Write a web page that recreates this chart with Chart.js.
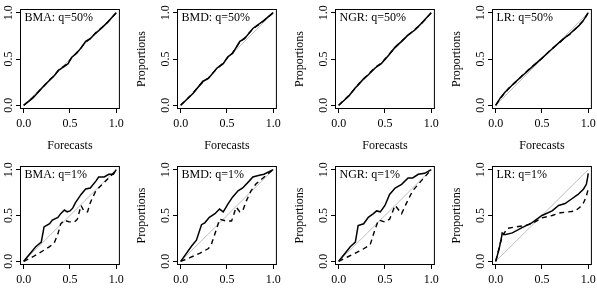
<!DOCTYPE html>
<html><head><meta charset="utf-8">
<script src="https://cdn.jsdelivr.net/npm/chart.js@4/dist/chart.umd.min.js"></script>
<style>
html,body{margin:0;padding:0;background:#fff;overflow:hidden;width:597px;height:288px;position:relative}
canvas{position:absolute}
</style>
</head><body>
<script>
// ---------- data ----------
const TICK_VALUES = [0, 0.5, 1];
const X_TITLE = 'Forecasts';
const Y_TITLE = 'Proportions';
const PANEL_TITLES = ['BMA: q=50%', 'BMD: q=50%', 'NGR: q=50%', 'LR: q=50%',
                      'BMA: q=1%', 'BMD: q=1%', 'NGR: q=1%', 'LR: q=1%'];
const DIAG_X = [0, 1];
const DIAG_Y = [0, 1];

// top row, q = 50%
const bma50SolidX = [0,0.1,0.2,0.28,0.33,0.38,0.44,0.48,0.52,0.57,0.62,0.67,0.72,0.78,0.85,0.9,1];
const bma50SolidY = [0,0.08,0.19,0.27,0.32,0.38,0.42,0.45,0.52,0.56,0.62,0.69,0.72,0.78,0.84,0.89,1];
const bma50DashX  = [0,0.1,0.2,0.28,0.33,0.38,0.44,0.48,0.52,0.57,0.62,0.67,0.72,0.78,0.85,0.9,1];
const bma50DashY  = [0,0.085,0.19,0.275,0.32,0.385,0.425,0.46,0.515,0.565,0.62,0.685,0.72,0.785,0.845,0.89,1];

const bmd50SolidX = [0,0.135,0.24,0.3,0.39,0.46,0.51,0.56,0.64,0.69,0.78,0.89,1];
const bmd50SolidY = [0,0.13,0.26,0.29,0.4,0.45,0.525,0.56,0.69,0.72,0.83,0.91,1];
const bmd50DashX  = [0,0.135,0.24,0.3,0.39,0.46,0.51,0.56,0.64,0.69,0.78,0.89,1];
const bmd50DashY  = [0,0.135,0.255,0.295,0.395,0.455,0.52,0.565,0.685,0.725,0.825,0.905,1];

const ngr50SolidX = [0,0.11,0.18,0.21,0.27,0.32,0.39,0.46,0.54,0.61,0.68,0.75,0.82,0.89,1];
const ngr50SolidY = [0,0.1,0.19,0.22,0.29,0.33,0.4,0.45,0.54,0.63,0.69,0.76,0.81,0.88,1];
const ngr50DashX  = [0,0.11,0.18,0.21,0.27,0.32,0.39,0.46,0.54,0.61,0.68,0.75,0.82,0.89,1];
const ngr50DashY  = [0,0.105,0.185,0.225,0.285,0.335,0.405,0.455,0.545,0.625,0.695,0.755,0.815,0.875,1];

const lr50SolidX = [0,0.05,0.1,0.15,0.2,0.3,0.4,0.5,0.6,0.7,0.75,0.8,0.9,0.95,1];
const lr50SolidY = [0,0.08,0.14,0.19,0.24,0.33,0.42,0.51,0.6,0.69,0.73,0.77,0.86,0.92,1];
const lr50DashX  = [0,0.05,0.1,0.15,0.2,0.3,0.4,0.5,0.6,0.7,0.75,0.8,0.9,0.95,1];
const lr50DashY  = [0,0.075,0.135,0.195,0.235,0.335,0.425,0.505,0.605,0.685,0.735,0.765,0.865,0.915,1];

// bottom row, q = 1%
const bma1SolidX = [0,0.13,0.19,0.22,0.28,0.31,0.37,0.4,0.44,0.47,0.5,0.53,0.56,0.62,0.67,0.72,0.78,0.81,0.87,0.92,0.97,1];
const bma1SolidY = [0,0.16,0.21,0.375,0.41,0.45,0.48,0.52,0.56,0.54,0.55,0.58,0.64,0.73,0.79,0.8,0.875,0.92,0.92,0.95,0.95,1];
const bma1DashX  = [0,0.1,0.2,0.28,0.33,0.37,0.4,0.44,0.49,0.55,0.58,0.62,0.65,0.69,0.72,0.78,0.81,0.87,0.92,0.96,1];
const bma1DashY  = [0,0.05,0.11,0.16,0.2,0.3,0.41,0.45,0.43,0.43,0.46,0.61,0.55,0.54,0.64,0.77,0.8,0.86,0.91,0.95,1];

const bmd1SolidX = [0,0.12,0.17,0.225,0.26,0.31,0.37,0.42,0.46,0.51,0.56,0.62,0.67,0.74,0.78,0.85,0.9,1];
const bmd1SolidY = [0,0.17,0.23,0.4,0.42,0.48,0.52,0.57,0.54,0.625,0.7,0.77,0.8,0.875,0.92,0.94,0.95,1];
const bmd1DashX  = [0,0.1,0.21,0.3,0.33,0.39,0.42,0.49,0.55,0.6,0.64,0.67,0.71,0.76,0.81,0.89,1];
const bmd1DashY  = [0,0.04,0.09,0.14,0.18,0.36,0.46,0.44,0.44,0.59,0.54,0.55,0.66,0.77,0.84,0.91,1];

const ngr1SolidX = [0,0.125,0.18,0.21,0.27,0.32,0.375,0.41,0.45,0.5,0.55,0.61,0.68,0.75,0.8,0.86,0.93,1];
const ngr1SolidY = [0,0.16,0.21,0.39,0.41,0.48,0.52,0.55,0.54,0.61,0.73,0.8,0.84,0.91,0.91,0.95,0.96,1];
const ngr1DashX  = [0,0.1,0.25,0.34,0.39,0.43,0.5,0.55,0.61,0.68,0.73,0.8,0.89,1];
const ngr1DashY  = [0,0.05,0.125,0.18,0.34,0.45,0.43,0.46,0.61,0.52,0.63,0.77,0.875,1];

const lr1SolidX = [0,0.036,0.064,0.07,0.1,0.18,0.29,0.39,0.5,0.61,0.68,0.75,0.82,0.89,0.95,0.98,0.995,1];
const lr1SolidY = [0,0.13,0.27,0.31,0.29,0.31,0.37,0.42,0.5,0.55,0.61,0.63,0.68,0.73,0.79,0.84,0.92,0.96];
const lr1DashX  = [0,0.05,0.08,0.125,0.21,0.32,0.39,0.5,0.61,0.7,0.79,0.86,0.91,0.95,0.98,1];
const lr1DashY  = [0,0.2,0.29,0.36,0.375,0.39,0.41,0.475,0.5,0.53,0.54,0.55,0.59,0.64,0.71,0.79];

const SOLID_X = [bma50SolidX, bmd50SolidX, ngr50SolidX, lr50SolidX, bma1SolidX, bmd1SolidX, ngr1SolidX, lr1SolidX];
const SOLID_Y = [bma50SolidY, bmd50SolidY, ngr50SolidY, lr50SolidY, bma1SolidY, bmd1SolidY, ngr1SolidY, lr1SolidY];
const DASH_X  = [bma50DashX, bmd50DashX, ngr50DashX, lr50DashX, bma1DashX, bmd1DashX, ngr1DashX, lr1DashX];
const DASH_Y  = [bma50DashY, bmd50DashY, ngr50DashY, lr50DashY, bma1DashY, bmd1DashY, ngr1DashY, lr1DashY];

// ---------- layout ----------
const BOX_LEFTS = [20, 177, 335, 492];
const BOX_TOPS = [9, 166];
const BOX_HEIGHTS = [100, 99];
const BOX_W = 100;
const Y_AXIS_W = 42, X_AXIS_H = 44, PAD_TOP = 8, PAD_RIGHT = 8;
const FONT = "'Liberation Serif', 'DejaVu Serif', serif";

const pts = (xs, ys) => xs.map((x, i) => ({x: x, y: ys[i]}));

const framePlugin = {
  id: 'frame',
  afterDatasetsDraw(chart, args, opts) {
    const {ctx, chartArea: a} = chart;
    ctx.save();
    ctx.strokeStyle = '#000';
    ctx.lineWidth = 1;
    ctx.strokeRect(a.left + 0.5, a.top + 0.5, a.right - a.left - 1, a.bottom - a.top - 1);
    ctx.fillStyle = '#000';
    ctx.font = '12px ' + FONT;
    ctx.textBaseline = 'middle';
    ctx.textAlign = 'left';
    ctx.fillText(opts.text, a.left + 4.5, a.top + 8.5);
    ctx.restore();
  }
};

function axisCommon() {
  return {
    type: 'linear', min: -0.04, max: 1.04,
    afterBuildTicks: s => { s.ticks = TICK_VALUES.map(v => ({value: v})); },
    grid: {drawOnChartArea: false, drawTicks: true, tickLength: 4, color: '#000', lineWidth: 1},
    border: {display: false},
  };
}

for (let i = 0; i < 8; i++) {
  const row = Math.floor(i / 4), col = i % 4;
  const c = document.createElement('canvas');
  const w = Y_AXIS_W + BOX_W + PAD_RIGHT;
  const h = PAD_TOP + BOX_HEIGHTS[row] + X_AXIS_H;
  c.width = w; c.height = h;
  c.style.width = w + 'px'; c.style.height = h + 'px';
  c.style.left = (BOX_LEFTS[col] - Y_AXIS_W) + 'px';
  c.style.top = (BOX_TOPS[row] - PAD_TOP) + 'px';
  document.body.appendChild(c);

  new Chart(c, {
    type: 'line',
    data: {
      datasets: [
        {data: pts(DIAG_X, DIAG_Y), borderColor: '#bebebe', borderWidth: 1, order: 3},
        {data: pts(DASH_X[i], DASH_Y[i]), borderColor: '#000', borderWidth: 1.4, borderDash: [5, 4], order: 2},
        {data: pts(SOLID_X[i], SOLID_Y[i]), borderColor: '#000', borderWidth: 1.5, order: 1}
      ]
    },
    options: {
      responsive: false, animation: false, devicePixelRatio: 1,
      layout: {padding: {left: 0, top: PAD_TOP, right: PAD_RIGHT, bottom: 0}},
      elements: {point: {radius: 0}, line: {tension: 0, fill: false}},
      plugins: {legend: {display: false}, tooltip: {enabled: false}, frame: {text: PANEL_TITLES[i]}},
      scales: {
        x: Object.assign(axisCommon(), {
          afterFit: s => { s.height = X_AXIS_H; },
          ticks: {color: '#000', font: {family: FONT, size: 12}, padding: 4, maxRotation: 0, autoSkip: false,
                  callback: v => Number(v).toFixed(1)},
          title: {display: true, text: X_TITLE, color: '#000', font: {family: FONT, size: 12}, padding: 0}
        }),
        y: Object.assign(axisCommon(), {
          afterFit: s => { s.width = Y_AXIS_W; },
          ticks: {color: '#000', font: {family: FONT, size: 12}, padding: -0.5, minRotation: 90, maxRotation: 90,
                  crossAlign: 'center', autoSkip: false, callback: v => Number(v).toFixed(1)},
          title: {display: true, text: Y_TITLE, color: '#000', font: {family: FONT, size: 12}, padding: 0}
        })
      }
    },
    plugins: [framePlugin]
  });
}
</script>
</body></html>
